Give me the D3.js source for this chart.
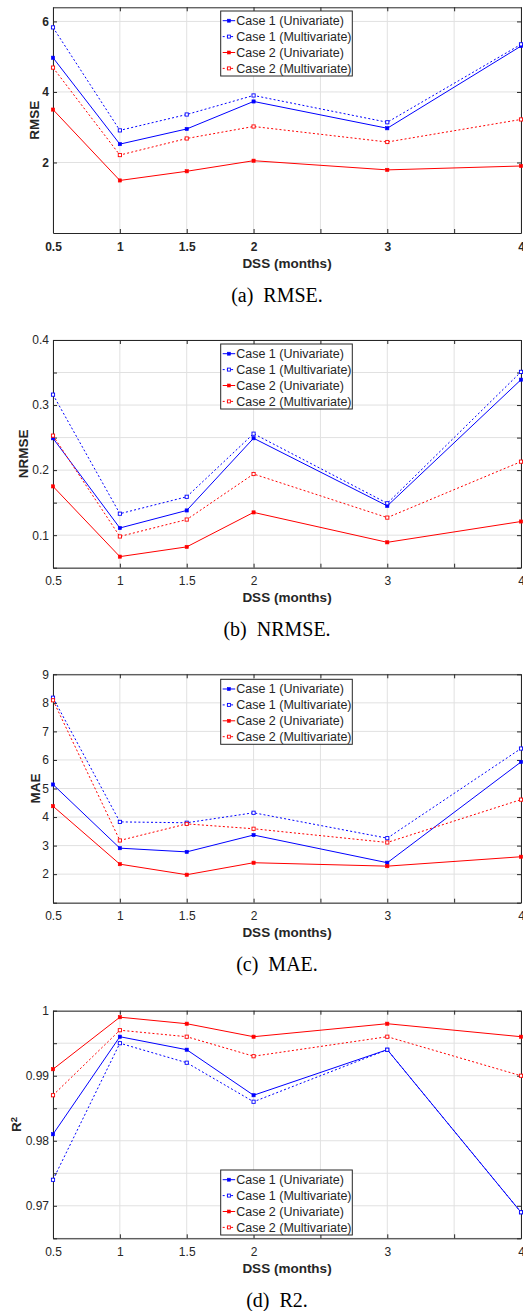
<!DOCTYPE html>
<html>
<head>
<meta charset="utf-8">
<script src="https://cdn.jsdelivr.net/npm/d3@7"></script>
<style>
  body { margin: 0; background: #fff; }
  svg { display: block; }
</style>
</head>
<body>
<div id="chart"></div>
<script>
// x values (DSS in months)
var dss = [0.5, 1, 1.5, 2, 3, 4];
var xTickLabels = [0.5, 1, 1.5, 2, 3, 4];
var seriesNames = ["Case 1 (Univariate)", "Case 1 (Multivariate)", "Case 2 (Univariate)", "Case 2 (Multivariate)"];

// (a) RMSE
var rmseCase1Uni   = [4.97, 2.52, 2.95, 3.73, 2.97, 5.30];
var rmseCase1Multi = [5.83, 2.91, 3.36, 3.90, 3.14, 5.35];
var rmseCase2Uni   = [3.50, 1.49, 1.75, 2.05, 1.79, 1.90];
var rmseCase2Multi = [4.69, 2.21, 2.68, 3.02, 2.58, 3.22];
var rmseTicks = [2, 4, 6];

// (b) NRMSE
var nrmseCase1Uni   = [0.249, 0.111, 0.138, 0.249, 0.145, 0.339];
var nrmseCase1Multi = [0.316, 0.133, 0.159, 0.256, 0.149, 0.351];
var nrmseCase2Uni   = [0.175, 0.067, 0.082, 0.135, 0.089, 0.121];
var nrmseCase2Multi = [0.253, 0.098, 0.124, 0.194, 0.127, 0.213];
var nrmseTicks = [0.1, 0.2, 0.3, 0.4];

// (c) MAE
var maeCase1Uni   = [5.14, 2.91, 2.78, 3.37, 2.40, 5.93];
var maeCase1Multi = [8.18, 3.83, 3.80, 4.15, 3.26, 6.40];
var maeCase2Uni   = [4.38, 2.35, 1.98, 2.40, 2.28, 2.61];
var maeCase2Multi = [8.09, 3.18, 3.76, 3.59, 3.11, 4.61];
var maeTicks = [2, 3, 4, 5, 6, 7, 8, 9];

// (d) R2
var r2Case1Uni   = [0.981, 0.996, 0.994, 0.987, 0.994, 0.969];
var r2Case1Multi = [0.974, 0.995, 0.992, 0.986, 0.994, 0.969];
var r2Case2Uni   = [0.991, 0.999, 0.998, 0.996, 0.998, 0.996];
var r2Case2Multi = [0.987, 0.997, 0.996, 0.993, 0.996, 0.990];
var r2Ticks = [0.97, 0.98, 0.99, 1];

var svgWidth = 523, svgHeight = 1311;
var axisColor = "#262626";
var gridColor = "#e1e1e1";
var sansFont = "'Liberation Sans', Arial, Helvetica, sans-serif";
var serifFont = "'Liberation Serif', 'Times New Roman', serif";

var seriesStyle = [
  {color: "#0000ff", dash: null, hollow: false},
  {color: "#0000ff", dash: "2,2.2", hollow: true},
  {color: "#ff0000", dash: null, hollow: false},
  {color: "#ff0000", dash: "2,2.2", hollow: true}
];

var svg = d3.select("#chart").append("svg")
  .attr("width", svgWidth)
  .attr("height", svgHeight);

var left = 53, right = 521;

var panels = [
  {top: 7.3, bottom: 233, domain: [0, 6.4], ticks: rmseTicks, gridStep: null, bold: true,
   ylabel: "RMSE", ylabelX: 34, legendTop: 11, caption: "(a)\u2002RMSE.",
   series: [rmseCase1Uni, rmseCase1Multi, rmseCase2Uni, rmseCase2Multi]},
  {top: 340, bottom: 567.7, domain: [0.05, 0.4], ticks: nrmseTicks, gridStep: 0.05, bold: false,
   ylabel: "NRMSE", ylabelX: 22.7, legendTop: 344, caption: "(b)\u2002NRMSE.",
   series: [nrmseCase1Uni, nrmseCase1Multi, nrmseCase2Uni, nrmseCase2Multi]},
  {top: 674.3, bottom: 902.7, domain: [1, 9], ticks: maeTicks, gridStep: 1, bold: false,
   ylabel: "MAE", ylabelX: 35, legendTop: 679.3, caption: "(c)\u2002MAE.",
   series: [maeCase1Uni, maeCase1Multi, maeCase2Uni, maeCase2Multi]},
  {top: 1010.7, bottom: 1238.3, domain: [0.965, 1], ticks: r2Ticks, gridStep: 0.005, bold: false,
   ylabel: "R2", ylabelX: 16, legendTop: 1170, caption: "(d)\u2002R2.",
   series: [r2Case1Uni, r2Case1Multi, r2Case2Uni, r2Case2Multi]}
];

panels.forEach(drawPanel);

function drawPanel(p) {
  var x = d3.scaleLinear().domain([0.5, 4]).range([left, right]);
  var y = d3.scaleLinear().domain(p.domain).range([p.bottom, p.top]);

  var xTickVals = d3.range(0.5, 4.001, 0.5);
  var yTickVals = p.gridStep
    ? d3.range(p.domain[0], p.domain[1] + p.gridStep / 2, p.gridStep).map(function(v) { return +v.toFixed(4); })
    : p.ticks;

  var g = svg.append("g");

  // white plot background
  g.append("rect")
    .attr("x", left).attr("y", p.top)
    .attr("width", right - left).attr("height", p.bottom - p.top)
    .attr("fill", "#fff");

  // grid
  g.append("g").selectAll("line")
    .data(xTickVals)
    .enter().append("line")
    .attr("x1", d => x(d)).attr("x2", d => x(d))
    .attr("y1", p.top).attr("y2", p.bottom)
    .attr("stroke", gridColor).attr("stroke-width", 1);

  g.append("g").selectAll("line")
    .data(yTickVals)
    .enter().append("line")
    .attr("x1", left).attr("x2", right)
    .attr("y1", d => y(d)).attr("y2", d => y(d))
    .attr("stroke", gridColor).attr("stroke-width", 1);

  var fontWeight = p.bold ? "bold" : "normal";

  // axes, MATLAB style: ticks inside, box all around
  var bottomAxis = d3.axisBottom(x)
    .tickValues(xTickVals)
    .tickSizeInner(-4).tickSizeOuter(0).tickPadding(9)
    .tickFormat(d => xTickLabels.indexOf(d) >= 0 ? d3.format("")(d) : "");
  var topAxis = d3.axisTop(x).tickValues(xTickVals)
    .tickSizeInner(-4).tickSizeOuter(0).tickFormat("");
  var leftAxis = d3.axisLeft(y).tickValues(yTickVals)
    .tickSizeInner(-4).tickSizeOuter(0).tickPadding(4)
    .tickFormat(d => p.ticks.some(t => Math.abs(t - d) < 1e-9) ? d3.format("")(d) : "");
  var rightAxis = d3.axisRight(y).tickValues(yTickVals)
    .tickSizeInner(-4).tickSizeOuter(0).tickFormat("");

  var axes = [
    g.append("g").attr("transform", `translate(0, ${p.bottom})`).call(bottomAxis),
    g.append("g").attr("transform", `translate(0, ${p.top})`).call(topAxis),
    g.append("g").attr("transform", `translate(${left}, 0)`).call(leftAxis),
    g.append("g").attr("transform", `translate(${right}, 0)`).call(rightAxis)
  ];
  axes.forEach(function(a) {
    a.select(".domain").attr("stroke", axisColor).attr("stroke-width", 1);
    a.selectAll(".tick line").attr("stroke", axisColor);
    a.selectAll("text")
      .attr("fill", axisColor)
      .style("font-family", sansFont)
      .style("font-size", "12px")
      .style("font-weight", fontWeight);
  });

  // lines
  var line = d3.line()
    .x((d, i) => x(dss[i]))
    .y(d => y(d));

  p.series.forEach(function(vals, k) {
    var st = seriesStyle[k];
    g.append("path")
      .datum(vals)
      .attr("d", line)
      .attr("fill", "none")
      .attr("stroke", st.color)
      .attr("stroke-width", 1)
      .attr("stroke-dasharray", st.dash);

    g.append("g").selectAll("rect")
      .data(vals)
      .enter().append("rect")
      .attr("x", (d, i) => x(dss[i]) - 1.6)
      .attr("y", d => y(d) - 1.6)
      .attr("width", 3.2).attr("height", 3.2)
      .attr("fill", st.hollow ? "#fff" : st.color)
      .attr("stroke", st.color)
      .attr("stroke-width", st.hollow ? 0.9 : 0.6);
  });

  // y label
  var yl = g.append("text")
    .attr("transform", `translate(${p.ylabelX}, ${(p.top + p.bottom) / 2}) rotate(-90)`)
    .attr("dy", "0.36em")
    .attr("text-anchor", "middle")
    .attr("fill", axisColor)
    .style("font-family", sansFont)
    .style("font-size", "13.5px")
    .style("font-weight", "bold");
  if (p.ylabel === "R2") {
    yl.append("tspan").text("R");
    yl.append("tspan").attr("dy", "-0.45em").style("font-size", "9.5px").text("2");
  } else {
    yl.text(p.ylabel);
  }

  // x label
  g.append("text")
    .attr("x", (left + right) / 2)
    .attr("y", p.bottom + 34.5)
    .attr("text-anchor", "middle")
    .attr("fill", axisColor)
    .style("font-family", sansFont)
    .style("font-size", "13.5px")
    .style("font-weight", "bold")
    .text("DSS (months)");

  // caption
  g.append("text")
    .attr("x", 277)
    .attr("y", p.bottom + 68.5)
    .attr("text-anchor", "middle")
    .attr("fill", "#000")
    .style("font-family", serifFont)
    .style("font-size", "20px")
    .text(p.caption);

  // legend
  var lx = 220.7, lw = 131.6, lh = 65, rowH = 15.9;
  var legend = g.append("g").attr("transform", `translate(${lx}, ${p.legendTop})`);
  legend.append("rect")
    .attr("x", 0).attr("y", 0)
    .attr("width", lw).attr("height", lh)
    .attr("fill", "#fff")
    .attr("stroke", axisColor)
    .attr("stroke-width", 1);

  seriesNames.forEach(function(name, k) {
    var st = seriesStyle[k];
    var cy = 9.7 + k * rowH;
    legend.append("line")
      .attr("x1", 2).attr("x2", 14.5)
      .attr("y1", cy).attr("y2", cy)
      .attr("stroke", st.color).attr("stroke-width", 1)
      .attr("stroke-dasharray", st.dash);
    legend.append("rect")
      .attr("x", 8.2 - 1.5).attr("y", cy - 1.5)
      .attr("width", 3).attr("height", 3)
      .attr("fill", st.hollow ? "#fff" : st.color)
      .attr("stroke", st.color)
      .attr("stroke-width", st.hollow ? 0.9 : 0.6);
    legend.append("text")
      .attr("x", 15.5)
      .attr("y", cy)
      .attr("dy", "0.36em")
      .attr("fill", axisColor)
      .style("font-family", sansFont)
      .style("font-size", "12.5px")
      .text(name);
  });
}
</script>
</body>
</html>
